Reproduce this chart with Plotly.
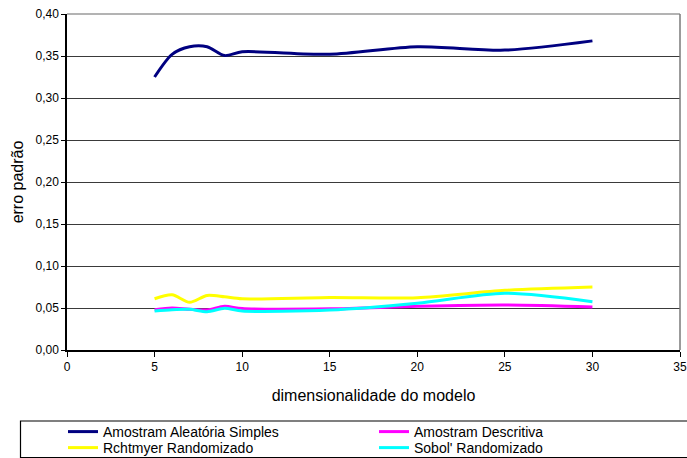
import plotly.graph_objects as go

# ---- data ----
dims = [5, 6, 7, 8, 9, 10, 15, 20, 25, 30]
aleatoria = [0.325, 0.352, 0.361, 0.361, 0.3505, 0.355, 0.352, 0.361, 0.357, 0.368]
descritiva = [0.048, 0.050, 0.0484, 0.0476, 0.052, 0.0493, 0.049, 0.052, 0.0536, 0.0512]
richtmyer = [0.061, 0.0657, 0.0567, 0.065, 0.0633, 0.0609, 0.0625, 0.0623, 0.071, 0.075]
sobol = [0.0464, 0.048, 0.0484, 0.0456, 0.0496, 0.0464, 0.0475, 0.0556, 0.0675, 0.0575]

series_names = ["Amostram Aleatória Simples", "Amostram Descritiva",
                "Rchtmyer Randomizado", "Sobol' Randomizado"]
series_vals = [aleatoria, descritiva, richtmyer, sobol]
colors = ["#000080", "#FF00FF", "#FFFF00", "#00FFFF"]
legend_ids = ["legend", "legend2", "legend3", "legend4"]

x_ticks = [0, 5, 10, 15, 20, 25, 30, 35]
y_ticks = [0, 0.05, 0.10, 0.15, 0.20, 0.25, 0.30, 0.35, 0.40]
y_ticklabels = ["0,00", "0,05", "0,10", "0,15", "0,20", "0,25", "0,30", "0,35", "0,40"]

FONT = "Liberation Sans, Arial, sans-serif"

fig = go.Figure()
for name, vals, col, lg in zip(series_names, series_vals, colors, legend_ids):
    fig.add_trace(go.Scatter(
        x=dims, y=vals, name=name, mode="lines",
        line=dict(color=col, width=3, shape="spline", smoothing=0.8),
        legend=lg, showlegend=True,
    ))

W, H = 687, 458
ml, mr, mt, mb = 67, 7, 14, 108
pw, ph = W - ml - mr, H - mt - mb

def px_x(p):
    return (p - ml) / pw

def px_y(p):
    return (H - mb - p) / ph

leg_common = dict(orientation="h", bgcolor="rgba(0,0,0,0)", borderwidth=0,
                  font=dict(family=FONT, size=14, color="black"),
                  xanchor="left", yanchor="middle", visible=True)

fig.update_layout(
    width=W, height=H,
    showlegend=True,
    margin=dict(l=ml, r=mr, t=mt, b=mb, autoexpand=False),
    paper_bgcolor="white", plot_bgcolor="white",
    font=dict(family=FONT, size=12, color="black"),
    xaxis=dict(range=[0, 35], tickvals=x_ticks, ticks="outside", ticklen=5,
               tickcolor="black", showline=True, linecolor="black", linewidth=1.5,
               showgrid=False, zeroline=False,
               tickfont=dict(size=12),
               title=dict(text="dimensionalidade do modelo", font=dict(size=16), standoff=17)),
    yaxis=dict(range=[0, 0.40], tickvals=y_ticks, ticktext=y_ticklabels,
               ticks="outside", ticklen=4, tickcolor="black",
               showline=True, linecolor="black", linewidth=1.5,
               showgrid=True, gridcolor="#3a3a3a", gridwidth=1, zeroline=False,
               tickfont=dict(size=12),
               title=dict(text="erro padrão", font=dict(size=16), standoff=8)),
    legend=dict(x=px_x(63), y=px_y(432), **leg_common),
    legend2=dict(x=px_x(374), y=px_y(432), **leg_common),
    legend3=dict(x=px_x(63), y=px_y(448), **leg_common),
    legend4=dict(x=px_x(374), y=px_y(448), **leg_common),
    shapes=[
        # plot area top / right border
        dict(type="line", xref="paper", yref="paper", x0=0, x1=1, y0=1, y1=1,
             line=dict(color="#9a9a9a", width=1.5), layer="above"),
        dict(type="line", xref="paper", yref="paper", x0=1, x1=1, y0=0, y1=1,
             line=dict(color="#7a7a7a", width=1.5), layer="above"),
        # legend frame
        dict(type="rect", xref="paper", yref="paper",
             x0=px_x(20.5), x1=px_x(700), y0=px_y(421), y1=px_y(457.5),
             line=dict(color="black", width=1.2), fillcolor="rgba(0,0,0,0)"),
    ],
)

fig.write_html("out.html")
